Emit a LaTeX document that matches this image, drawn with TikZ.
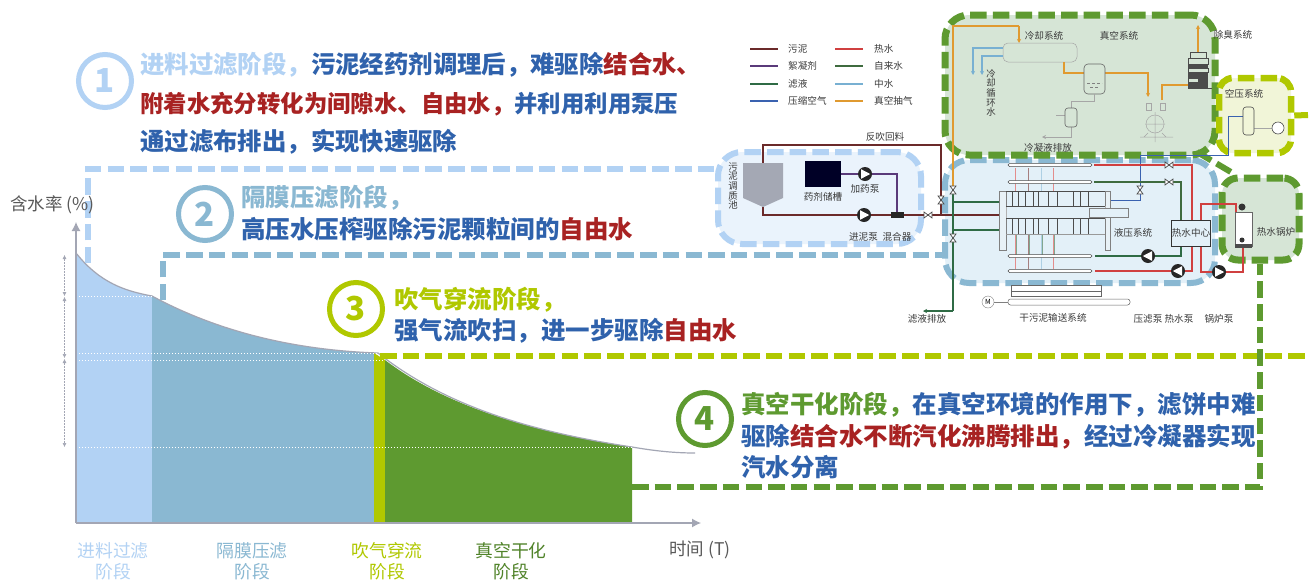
\documentclass[tikz,border=0pt]{standalone}
\usepackage{fontspec}
\setmainfont{Noto Sans CJK SC}
\usetikzlibrary{arrows.meta}
\definecolor{cA}{HTML}{B2D2F4}
\definecolor{cB}{HTML}{8AB8D2}
\definecolor{cC}{HTML}{B0C800}
\definecolor{cD}{HTML}{5E9A30}
\definecolor{fV}{HTML}{D6E5D6}
\definecolor{fB}{HTML}{E3F0F8}
\definecolor{fA}{HTML}{EAF3FC}
\definecolor{fC}{HTML}{F1F5D8}
\definecolor{tankc}{HTML}{A4A8B4}
\definecolor{tBlue}{HTML}{2F62AC}
\definecolor{tRed}{HTML}{A82222}
\definecolor{axisc}{HTML}{A3A6B4}
\definecolor{sludge}{HTML}{6B2A2A}
\definecolor{flocc}{HTML}{5A3A7A}
\definecolor{filt}{HTML}{2F6B45}
\definecolor{air}{HTML}{3A62B0}
\definecolor{hot}{HTML}{D04040}
\definecolor{tap}{HTML}{3F6B3F}
\definecolor{mid}{HTML}{78B0D2}
\definecolor{vac}{HTML}{E09A30}
\definecolor{txt}{HTML}{3A3A3A}
\newcommand{\fsz}[1]{\fontsize{#1}{#1}\selectfont}
\newcommand{\mypump}[3]{\begin{scope}[shift={(#1,#2)},rotate=#3]\fill[black!85] (0,0) circle (7);\fill[white] (-4,-4.8)--(5.2,0)--(-4,4.8)--cycle;\end{scope}}
\newcommand{\myvalve}[3]{\begin{scope}[shift={(#1,#2)},rotate=#3]\draw[line width=.7pt,fill=white,draw=black!70] (-4,-3)--(4,3)--(4,-3)--(-4,3)--cycle;\end{scope}}
\tikzset{
 x=1pt,y=-1pt,
 dashA/.style={line width=6pt,dash pattern=on 16.5pt off 6.2pt},
 boxdash/.style={line width=#1,dash pattern=on 16.5pt off 6.2pt,rounded corners=24pt,inner sep=0pt},
 head/.style={font=\bfseries\fsz{#1},anchor=west,inner sep=0pt},
 numc/.style={circle,draw=#1,text=#1,line width=5pt,minimum size=53pt,inner sep=0pt,font=\bfseries\fsz{33},fill=white},
 stage/.style={font=\fsz{17.8},text=#1,inner sep=0pt,align=center},
 lab/.style={font=\fsz{9.6},text=txt,inner sep=0pt},
 vlab/.style={font=\fsz{9.4},text=txt,inner sep=0pt,align=center},
 tip/.style={-{Stealth[length=4pt,width=4pt]}},
}
\begin{document}
\begin{tikzpicture}
\useasboundingbox (0,0) rectangle (1310,579);
\fill[white] (0,0) rectangle (1310,579);
% boxes
\node[draw=cB,fill=fB,boxdash=6pt,minimum width=270pt,minimum height=123pt] (boxB) at (1080,221.5) {};
\node[draw=cA,fill=fA,boxdash=6pt,minimum width=203pt,minimum height=92pt] (boxA) at (819.5,198) {};
\node[draw=cD,fill=fV,boxdash=7pt,minimum width=270pt,minimum height=140pt] (boxV) at (1080,85) {};
\node[draw=cC,fill=fC,boxdash=6.5pt,minimum width=72pt,minimum height=75pt,rounded corners=14pt] (boxC) at (1255,115.5) {};
\node[draw=cD,fill=fV,boxdash=7pt,minimum width=77pt,minimum height=82pt,rounded corners=16pt] (boxH) at (1260.5,219) {};
% chart fills
\fill[cA] (76,523)--(76,253) .. controls (100,283) and (125,291) .. (152,296)--(152,523)--cycle;
\fill[cB] (152,523)--(152,296) .. controls (215,330) and (290,350) .. (375,353)--(375,523)--cycle;
\fill[cC] (374,523)--(374,353)--(385,360)--(385,523)--cycle;
\fill[cD] (385,523)--(385,360) .. controls (440,402) and (520,430) .. (632,447)--(632,523)--cycle;
\draw[axisc,line width=1.2pt] (76,253) .. controls (100,283) and (125,291) .. (152,296) .. controls (215,330) and (290,350) .. (378,353) .. controls (440,402) and (520,430) .. (632,447) .. controls (655,451) and (675,453) .. (695,453);
\draw[white,line width=1pt,dotted] (76,296)--(152,296) (76,353)--(378,353) (76,360)--(385,360) (76,447)--(632,447);
\draw[axisc,line width=1.2pt,-{Latex[length=9pt,width=9pt]}] (76,523)--(76,222);
\draw[axisc,line width=1.2pt,-{Latex[length=9pt,width=9pt]}] (76,523)--(701,523);
\draw[axisc,line width=.5pt,densely dotted,{Latex[length=4pt,width=4pt]}-{Latex[length=4pt,width=4pt]}] (64.5,255)--(64.5,296);
\draw[axisc,line width=.5pt,densely dotted,{Latex[length=4pt,width=4pt]}-{Latex[length=4pt,width=4pt]}] (64.5,297)--(64.5,358);
\draw[axisc,line width=.5pt,densely dotted,{Latex[length=4pt,width=4pt]}-{Latex[length=4pt,width=4pt]}] (64.5,359)--(64.5,447);
% dashed connectors
\coordinate (lA) at (88,263);
\coordinate (lB) at (163,300);
\coordinate (lC) at (380,356);
\coordinate (lD) at (632,487);
\coordinate (rC) at (1309,356);
\coordinate (sC) at (1308,115);
\draw[cA,dashA] (lA)--(88,169)--(boxA.west|-0,169);
\draw[cB,dashA] (lB)--(163,255)--(boxB.west|-0,255);
\draw[cC,dashA] (lC)--(rC);
\draw[cC,dashA] (boxC.east)--(sC);
\draw[cD,dashA] (lD)--(1260,487)--(boxH.south-|1260,0);
\draw[cD,dashA] (1197,152)--(1236,175);
% main text
\node[numc=cA] (n1) at (105,81) {1};
\node[numc=cB] (n2) at (205,214) {2};
\node[numc=cC] (n3) at (356,309) {3};
\node[numc=cD] (n4) at (705,419) {4};
\node[head=24.4] (t1a) at (140,65) {\textcolor{cA}{进料过滤阶段，}\textcolor{tBlue}{污泥经药剂调理后，难驱除}\textcolor{tRed}{结合水、}};
\node[head=23.4] (t1b) at (140,104) {\textcolor{tRed}{附着水充分转化为间隙水、自由水，}\textcolor{tBlue}{并利用利用泵压}};
\node[head=24.4] (t1c) at (140,142) {\textcolor{tBlue}{通过滤布排出，实现快速驱除}};
\node[head=24.5] (t2a) at (241,198) {\textcolor{cB}{隔膜压滤阶段，}};
\node[head=24.5] (t2b) at (241,229) {\textcolor{tBlue}{高压水压榨驱除污泥颗粒间的}\textcolor{tRed}{自由水}};
\node[head=24.5] (t3a) at (394,300) {\textcolor{cC}{吹气穿流阶段，}};
\node[head=24.5] (t3b) at (394,331) {\textcolor{tBlue}{强气流吹扫，进一步驱除}\textcolor{tRed}{自由水}};
\node[head=24.5] (t4a) at (741,405) {\textcolor{cD}{真空干化阶段，}\textcolor{tBlue}{在真空环境的作用下，滤饼中难}};
\node[head=24.5] (t4b) at (741,437) {\textcolor{tBlue}{驱除}\textcolor{tRed}{结合水不断汽化沸腾排出，}\textcolor{tBlue}{经过冷凝器实现}};
\node[head=24.5] (t4c) at (741,467) {\textcolor{tBlue}{汽水分离}};
% axis labels
\node[font=\fsz{17.5},text=black!65,anchor=west,inner sep=0pt] (ylab) at (10,205) {含水率 (\%)};
\node[font=\fsz{17.5},text=black!65,anchor=west,inner sep=0pt] (xlab) at (669,550) {时间 (T)};
\node[stage=cA] (s1) at (113,561) {进料过滤\\[3pt]阶段};
\node[stage=cB] (s2) at (252,561) {隔膜压滤\\[3pt]阶段};
\node[stage=cC] (s3) at (387,561) {吹气穿流\\[3pt]阶段};
\node[stage=cD!85!black] (s4) at (511,561) {真空干化\\[3pt]阶段};
% legend
\foreach \y/\c/\t [count=\i] in {49/sludge/污泥,66/flocc/絮凝剂,84/filt/滤液,101/air/压缩空气}{
 \coordinate (la\i) at (750,\y); \coordinate (lb\i) at (778,\y);
 \draw[\c,line width=1.4pt] (la\i)--(lb\i);
 \node[lab,anchor=west] (lt\i) at (788,\y) {\t};}
\foreach \y/\c/\t [count=\i] in {49/hot/热水,66/tap/自来水,84/mid/中水,101/vac/真空抽气}{
 \coordinate (ma\i) at (835,\y); \coordinate (mb\i) at (863,\y);
 \draw[\c,line width=1.4pt] (ma\i)--(mb\i);
 \node[lab,anchor=west] (mt\i) at (874,\y) {\t};}
% dosing section
\node[lab] (fb) at (885,137) {反吹回料};
\draw[sludge,line width=1.2pt] (763,163)--(763,145)--(941,145)--(941,215);
\draw[sludge,line width=1.2pt] (763,207)--(763,215)--(999,215);
\draw[flocc,line width=1.5pt] (840,174)--(897,174)--(897,215);
\fill[tankc] (743,163)--(783,163)--(783,198)--(763,207)--(743,198)--cycle;
\node[vlab] (tk) at (733,186) {污\\[.3pt]泥\\[.3pt]调\\[.3pt]质\\[.3pt]池};
\node[fill=black!85!blue,minimum width=36pt,minimum height=26pt,inner sep=0pt] (store) at (822.5,174) {};
\node[lab] (storet) at (823,197) {药剂储槽};
\mypump{865}{174}{0}
\mypump{864}{215}{0}
\node[lab] (p1) at (865,189) {加药泵};
\node[lab] (p2) at (863.5,237) {进泥泵};
\node[lab] (p3) at (897,237) {混合器};
\node[fill=black!85,minimum width=13pt,minimum height=6pt,inner sep=0pt] (mix) at (897,215) {};
% vacuum section
\draw[vac,line width=1.2pt] (953,190)--(953,26)--(1019,26);
\draw[vac,line width=1.2pt,tip] (1019,26)--(1019,43);
\draw[gray!70,fill=fV,line width=.5pt,rounded corners=5pt] (1003,43) rectangle (1077,62);
\draw[vac,line width=1.5pt] (1064,62)--(1064,73)--(1085,73);
\draw[vac,line width=1.5pt,tip] (1105,73)--(1148,73)--(1148,97);
\draw[vac,line width=1.5pt] (1162,100)--(1162,85)--(1188,85);
\draw[vac,line width=1.5pt,tip] (1198,52)--(1198,25);
\draw[mid,line width=1.3pt,tip] (1003,48)--(973,48)--(973,75);
\draw[mid,line width=1.3pt,tip] (1003,56)--(982,56)--(982,75);
\draw[black!60,line width=.6pt,fill=fV,rounded corners=4pt] (1084,64) rectangle (1105,94);
\draw[black!50,line width=.4pt,densely dashed] (1087,83)--(1102,83) (1090,87)--(1099,87);
\draw[gray!70,line width=.6pt] (1094,94)--(1094,101)--(1071,101)--(1071,108);
\draw[gray!70,line width=.6pt,tip] (1071,127)--(1071,137)--(1042,137);
\draw[gray!70,line width=.6pt] (1056,115)--(1065,115);
\draw[black!60,line width=.6pt,fill=fV,rounded corners=3pt] (1065,108) rectangle (1077,127);
\draw[gray!70,line width=.5pt,fill=fV] (1155,124) circle (9);
\draw[gray!70,line width=.5pt] (1140,137)--(1173,137) (1155,112)--(1155,142) (1145,124)--(1165,124) (1148,133)--(1144,137) (1162,133)--(1166,137);
\draw[gray!70,line width=.5pt] (1146,103) rectangle (1151,110) (1160,103) rectangle (1165,110);
\fill[black!70] (1188,60) rectangle (1208,88);
\draw[gray!60!black,fill=fV,line width=.4pt] (1188,58) rectangle (1208,64) (1188,68) rectangle (1208,72) (1188,78) rectangle (1198,82);
\draw[gray!60!black,line width=.5pt] (1190,52) rectangle (1206,58) (1188,88)--(1212,88);
\node[lab] (vs1) at (1044,36) {冷却系统};
\node[lab] (vs2) at (1119,36) {真空系统};
\node[lab] (vs3) at (1233,35) {除臭系统};
\node[lab] (vs4) at (1048,148) {冷凝液排放};
\node[vlab] (vs5) at (991,93) {冷\\[.3pt]却\\[.3pt]循\\[.3pt]环\\[.3pt]水};
% compressed air
\draw[air,line width=1pt] (1243,116)--(1228,116)--(1228,155)--(1140,155)--(1140,200)--(1110,200);
\draw[gray!70,line width=.6pt] (1254,128)--(1272,128);
\draw[black!70,line width=.6pt,fill=fC,rounded corners=3pt] (1243,107) rectangle (1254,135);
\draw[black!70,line width=.6pt,fill=white] (1278,128) circle (6);
\node[lab] (as) at (1244,94) {空压系统};
% press piping
\draw[hot,line width=1.3pt] (1094,165)--(1192,165)--(1192,220);
\draw[tap,line width=1.3pt] (1094,182)--(1181,182)--(1181,220);
\draw[hot,line width=1.3pt] (1192,246)--(1192,271)--(1095,271);
\draw[filt,line width=1.3pt] (1181,246)--(1181,256)--(1095,256);
\draw[hot,line width=1.3pt] (1201,246)--(1201,272)--(1243,272)--(1243,245);
\draw[hot,line width=1.3pt] (1201,220)--(1201,204)--(1236,204)--(1236,214);
\draw[filt,line width=1.1pt] (953,202)--(999,202) (953,230)--(999,230);
\draw[filt,line width=1.1pt] (953,190)--(953,311);
\draw[filt,line width=1.1pt,tip] (953,311)--(923,311);
\foreach \x/\c in {1015/hot,1028/sludge,1041/mid,1053/hot}{\draw[\c!60!white,line width=.6pt] (\x,168)--(\x,191);\draw[\c!60!white,line width=.6pt] (\x,234)--(\x,269);}
\foreach \x in {1015,1028,1041,1053}{\draw[filt!60!white,line width=.6pt] (\x+1,234)--(\x+1,256);}
\foreach \y in {165,182,256,271}{\draw[black!70,fill=white,line width=.5pt,rounded corners=1.5pt] (1008,\y-1.5) rectangle (1092,\y+1.5);}
\draw[gray,fill=white!80!cB,line width=.6pt] (999,191) rectangle (1006,250);
\draw[gray,fill=white!80!cB,line width=.6pt] (1105,191) rectangle (1110,250);
\draw[gray!60,line width=.5pt] (1006,206) rectangle (1105,218);
\draw[gray,fill=fB,line width=.5pt] (1089,208) rectangle (1128,217);
\draw[black!70,line width=.5pt] (1006,191)--(1105,191) (1006,206)--(1105,206) (1006,218)--(1105,218);
\draw[gray!80,line width=.5pt] (1006,234)--(1105,234);
\foreach \x in {1012,1018,1025,1033,1038,1048,1057,1073,1080,1088}{\draw[black!70,line width=.5pt] (\x,191)--(\x,206) (\x,218)--(\x,234);}
\myvalve{928}{215}{0}
\myvalve{941}{200}{90}
\myvalve{953}{190}{90}
\myvalve{953}{238}{90}
\myvalve{1140}{190}{90}
\myvalve{1169}{165}{0}
\myvalve{1169}{182}{0}
\mypump{1148}{256}{180}
\mypump{1178}{271}{180}
\mypump{1219}{272}{0}
\node[draw=black!80,fill=fB,line width=.8pt,minimum width=38pt,minimum height=26pt,inner sep=0pt,font=\fsz{9.6},text=txt] (hc) at (1191,233) {热水中心};
\draw[black!60,fill=white,line width=.5pt] (1235,212) rectangle (1252,246);
\fill[black!80] (1242,207) circle (3.5) (1242,240) circle (2.5);
\fill[black!70] (1235,244) rectangle (1252,248);
\node[lab] (hs1) at (1133,233) {液压系统};
\node[lab] (hs2) at (1276,232) {热水锅炉};
% conveyor
\draw[black!60,line width=.5pt,fill=white] (1011,285) rectangle (1101,291);
\draw[black!60,line width=.5pt,fill=white] (1011,291) rectangle (1101,296);
\draw[black!60,line width=.5pt,fill=white,rounded corners=2.5pt] (1008,299) rectangle (1130,305);
\node[draw=black!50,circle,minimum size=12pt,inner sep=0pt,font=\fsz{7}] (mot) at (988,302) {M};
\coordinate (conv) at (1008,302);
\draw[black!50,line width=.5pt] (mot)--(conv);
\node[lab] (b0) at (927,319) {滤液排放};
\node[lab] (b1) at (1053,318) {干污泥输送系统};
\node[lab] (b2) at (1148,319) {压滤泵};
\node[lab] (b3) at (1179,319) {热水泵};
\node[lab] (b4) at (1219,319) {锅炉泵};
\end{tikzpicture}
\end{document}
